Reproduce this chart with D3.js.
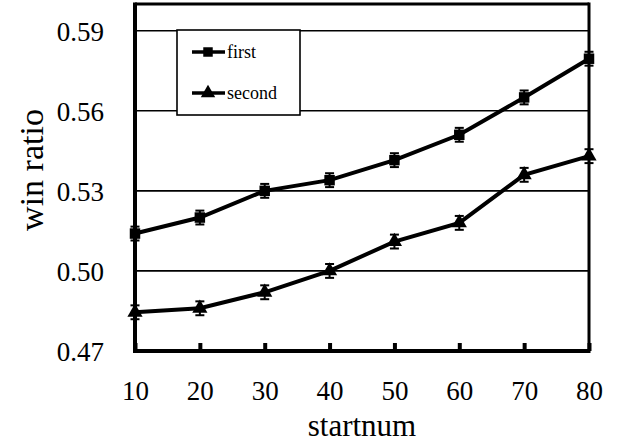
<!DOCTYPE html>
<html>
<head>
<meta charset="utf-8">
<script src="https://d3js.org/d3.v7.min.js"></script>
<style>
body { margin: 0; background: #fff; }
svg text { font-family: "Liberation Serif", "DejaVu Serif", serif; fill: #000; }
</style>
</head>
<body>
<svg width="619" height="443"></svg>
<script>
// data
var startnum = [10, 20, 30, 40, 50, 60, 70, 80];
var first = [0.514, 0.520, 0.530, 0.534, 0.5415, 0.551, 0.565, 0.5795];
var second = [0.4845, 0.486, 0.492, 0.500, 0.511, 0.518, 0.536, 0.543];
var errFirst = 0.0026;
var errSecond = 0.0026;
var yTicks = [0.47, 0.50, 0.53, 0.56, 0.59];
var seriesNames = ["first", "second"];

var svg = d3.select("svg");
var plotL = 135, plotR = 589, plotT = 4, plotB = 351;

var x = d3.scaleLinear().domain([10, 80]).range([plotL, plotR]);
var y = d3.scaleLinear().domain([0.47, 0.60]).range([plotB, plotT]);

// grid lines
svg.append("g").selectAll("line")
    .data(yTicks.slice(1))
    .enter().append("line")
    .attr("x1", plotL).attr("x2", plotR)
    .attr("y1", function(d) { return y(d); })
    .attr("y2", function(d) { return y(d); })
    .attr("stroke", "#000").attr("stroke-width", 1.6);

// frame
svg.append("line").attr("x1", plotL).attr("x2", plotR).attr("y1", plotT).attr("y2", plotT)
    .attr("stroke", "#000").attr("stroke-width", 3);
svg.append("line").attr("x1", plotR).attr("x2", plotR).attr("y1", plotT - 1.5).attr("y2", plotB)
    .attr("stroke", "#000").attr("stroke-width", 3);

// y axis labels
var yAxis = d3.axisLeft(y).tickValues(yTicks).tickFormat(d3.format(".2f")).tickSize(0).tickPadding(31);
var gy = svg.append("g").attr("transform", "translate(" + plotL + ",0)").call(yAxis);
gy.select(".domain").remove();
gy.selectAll("text").style("font-size", "27px").attr("dy", "0.35em");

// x axis: inward ticks
var xAxis = d3.axisBottom(x).tickValues(startnum).tickSize(-8).tickPadding(30);
var gx = svg.append("g").attr("transform", "translate(0," + plotB + ")").call(xAxis);
gx.select(".domain").remove();
gx.selectAll("line").attr("stroke", "#000").attr("stroke-width", 4);
gx.selectAll("text").style("font-size", "27px");

// thick left and bottom
svg.append("line").attr("x1", plotL).attr("x2", plotL).attr("y1", plotT - 1.5).attr("y2", plotB + 2)
    .attr("stroke", "#000").attr("stroke-width", 4);
svg.append("line").attr("x1", plotL - 2).attr("x2", plotR + 1.5).attr("y1", plotB).attr("y2", plotB)
    .attr("stroke", "#000").attr("stroke-width", 4);

// axis titles
svg.append("text")
    .attr("text-anchor", "middle")
    .attr("transform", "translate(43,170) rotate(-90)")
    .style("font-size", "34px")
    .text("win ratio");
svg.append("text")
    .attr("text-anchor", "middle")
    .attr("x", 362).attr("y", 436)
    .style("font-size", "31px")
    .text("startnum");

var line = d3.line()
    .x(function(d, i) { return x(startnum[i]); })
    .y(function(d) { return y(d); });

function drawSeries(vals, err, shape, size) {
    var g = svg.append("g");
    g.append("path").datum(vals).attr("d", line)
        .attr("fill", "none").attr("stroke", "#000").attr("stroke-width", 4);
    vals.forEach(function(v, i) {
        var cx = x(startnum[i]);
        var y1 = y(v + err), y2 = y(v - err);
        g.append("line").attr("x1", cx).attr("x2", cx).attr("y1", y1).attr("y2", y2)
            .attr("stroke", "#000").attr("stroke-width", 2);
        [y1, y2].forEach(function(yy) {
            g.append("line").attr("x1", cx - 4.5).attr("x2", cx + 4.5).attr("y1", yy).attr("y2", yy)
                .attr("stroke", "#000").attr("stroke-width", 2);
        });
        g.append("path").attr("d", d3.symbol().type(shape).size(size)())
            .attr("transform", "translate(" + cx + "," + y(v) + ")")
            .attr("fill", "#000");
    });
}
drawSeries(first, errFirst, d3.symbolSquare, 110);
drawSeries(second, errSecond, d3.symbolTriangle, 100);

// legend
var lg = svg.append("g");
lg.append("rect").attr("x", 177).attr("y", 30).attr("width", 123).attr("height", 85)
    .attr("fill", "#fff").attr("stroke", "#000").attr("stroke-width", 1.6);
var shapes = [d3.symbolSquare, d3.symbolTriangle];
seriesNames.forEach(function(name, i) {
    var ly = 52 + i * 41;
    lg.append("line").attr("x1", 192).attr("x2", 225).attr("y1", ly).attr("y2", ly)
        .attr("stroke", "#000").attr("stroke-width", 3.5);
    lg.append("path").attr("d", d3.symbol().type(shapes[i]).size(90)())
        .attr("transform", "translate(208," + ly + ")").attr("fill", "#000");
    lg.append("text").attr("x", 227).attr("y", ly).attr("dy", "0.35em")
        .style("font-size", "18px").text(name);
});
</script>
</body>
</html>
